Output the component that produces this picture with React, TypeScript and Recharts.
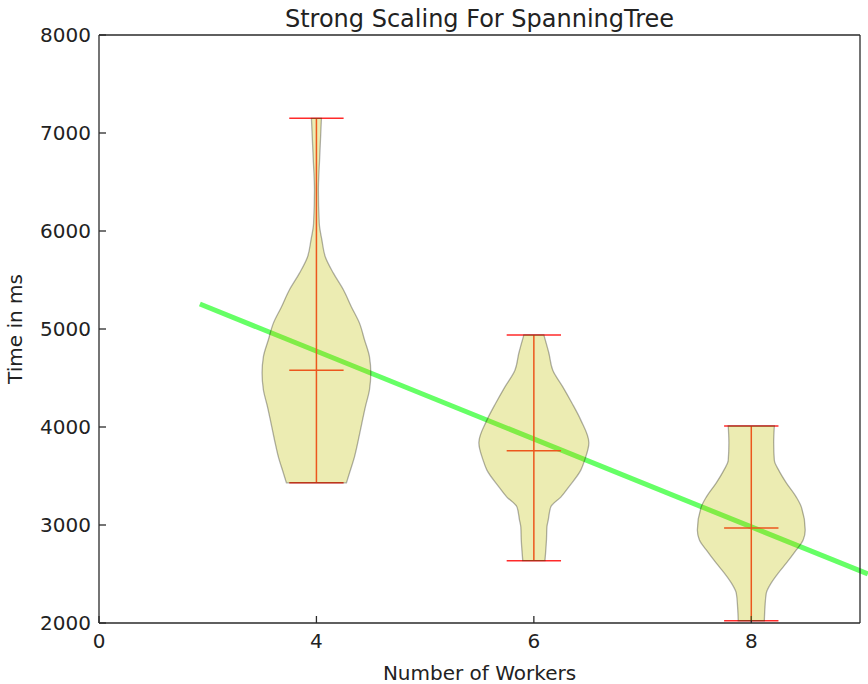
import { ComposedChart, Scatter, XAxis, YAxis, ReferenceLine, Curve } from "recharts";

const FONT = "'DejaVu Sans', sans-serif";
const TEXT = "#222";
const FRAME = "#2a2a2a";

const TITLE = "Strong Scaling For SpanningTree";

// violins sit at positions 1,2,3; axis ticks 0..3 carry these labels
const X_TICKS = [0, 1, 2, 3];
const X_TICK_LABELS = ["0", "4", "6", "8"];
const Y_TICKS = [2000, 3000, 4000, 5000, 6000, 7000, 8000];

const WORKERS = ["4", "6", "8"];
const MIN_TIMES = [3430, 2636, 2023];
const MAX_TIMES = [7150, 4939, 4010];
const MEAN_TIMES = [4580, 3758, 2969];

// kde outline: [time, half width in axis units]
const VIOLIN_4 = [
  [7150, 0.023], [6750, 0.015], [6420, 0.009], [6080, 0.013], [5910, 0.025],
  [5735, 0.041], [5570, 0.078], [5400, 0.124], [5225, 0.161], [5060, 0.198],
  [4890, 0.221], [4715, 0.244], [4550, 0.25], [4380, 0.244], [4205, 0.225],
  [4040, 0.209], [3870, 0.193], [3695, 0.175], [3530, 0.152], [3430, 0.138],
];
const VIOLIN_6 = [
  [4939, 0.046], [4755, 0.069], [4580, 0.087], [4410, 0.133], [4245, 0.175],
  [4070, 0.216], [3840, 0.253], [3665, 0.234], [3560, 0.216], [3390, 0.161],
  [3285, 0.124], [3185, 0.078], [3050, 0.066], [2980, 0.06], [2850, 0.058],
  [2636, 0.051],
];
const VIOLIN_8 = [
  [4010, 0.106], [3840, 0.103], [3660, 0.106], [3560, 0.126], [3430, 0.161],
  [3285, 0.207], [3185, 0.23], [2950, 0.248], [2850, 0.239], [2745, 0.207],
  [2610, 0.161], [2510, 0.124], [2410, 0.092], [2305, 0.069], [2165, 0.063],
  [2023, 0.06],
];
const VIOLINS = [VIOLIN_4, VIOLIN_6, VIOLIN_8];

// fitted trend line end points
const TREND = [
  { x: 0.464, y: 5255 },
  { x: 3.536, y: 2500 },
];

const CAP = 0.125;
const RED = "#ff2a2a";

// right side top->bottom, then left side bottom->top
const outline = (rows: number[][], pos: number) => [
  ...rows.map(([t, w]) => ({ x: pos + w, y: t })),
  ...rows
    .slice()
    .reverse()
    .map(([t, w]) => ({ x: pos - w, y: t })),
];

// smooth body between the two sides
const ViolinBody = (p: any) => {
  const pts = p.points || [];
  const n = pts.length / 2;
  const right = pts.slice(0, n);
  const left = pts.slice(n).reverse();
  return (
    <Curve
      layout="vertical"
      type="monotone"
      points={right}
      baseLine={left}
      fill="#bfbf00"
      fillOpacity={0.3}
      stroke="#000"
      strokeOpacity={0.3}
      strokeWidth={1.3}
    />
  );
};

const YLabel = (props: any) => {
  const vb = props.viewBox;
  const cx = 15;
  const cy = vb.y + vb.height / 2;
  return (
    <text
      x={cx}
      y={cy}
      dy="0.355em"
      transform={`rotate(-90 ${cx} ${cy})`}
      textAnchor="middle"
      fontSize={20}
      fontFamily={FONT}
      fill={TEXT}
    >
      Time in ms
    </text>
  );
};

const tickStyle = { fill: TEXT, fontSize: 20, fontFamily: FONT };

export default function App() {
  return (
    <div style={{ position: "absolute", left: 0, top: 0, background: "#fff" }}>
      <ComposedChart
        width={868}
        height={684}
        margin={{ top: 0, right: 0, bottom: 0, left: 0 }}
        style={{ fontFamily: FONT }}
      >
        <XAxis
          dataKey="x"
          type="number"
          domain={[0, 3.5]}
          ticks={X_TICKS}
          interval={0}
          tickFormatter={(v) => X_TICK_LABELS[v]}
          height={61}
          tickSize={-7}
          tickMargin={18}
          stroke={FRAME}
          strokeWidth={1.3}
          tick={tickStyle}
          label={{ value: "Number of Workers", position: "insideBottom", offset: 4, fontSize: 20, fill: TEXT }}
        />
        <XAxis
          xAxisId="top"
          orientation="top"
          type="number"
          domain={[0, 3.5]}
          allowDataOverflow
          ticks={X_TICKS}
          interval={0}
          height={35}
          tick={false}
          tickSize={-7}
          stroke={FRAME}
          strokeWidth={1.3}
          label={{ value: TITLE, position: "insideTop", offset: 9.5, fontSize: 24, fill: TEXT }}
        />
        <YAxis
          dataKey="y"
          type="number"
          domain={[2000, 8000]}
          ticks={Y_TICKS}
          interval={0}
          width={99}
          tickSize={-7}
          tickMargin={15}
          stroke={FRAME}
          strokeWidth={1.3}
          tick={tickStyle}
          label={<YLabel />}
        />
        <YAxis
          yAxisId="right"
          orientation="right"
          type="number"
          domain={[2000, 8000]}
          allowDataOverflow
          ticks={Y_TICKS}
          interval={0}
          width={8}
          tick={false}
          tickSize={-7}
          stroke={FRAME}
          strokeWidth={1.3}
        />
        {VIOLINS.map((rows, i) => (
          <Scatter
            key={WORKERS[i]}
            name={WORKERS[i]}
            data={outline(rows, i + 1)}
            isAnimationActive={false}
            shape={() => <g />}
            line={(p: any) => <ViolinBody {...p} />}
          />
        ))}
        <ReferenceLine
          segment={TREND}
          ifOverflow="visible"
          stroke="#66ff66"
          strokeWidth={5}
        />
        {WORKERS.map((w, i) => (
          <ReferenceLine
            key={`stem-${w}`}
            segment={[
              { x: i + 1, y: MIN_TIMES[i] },
              { x: i + 1, y: MAX_TIMES[i] },
            ]}
            stroke={RED}
            strokeWidth={1.5}
          />
        ))}
        {WORKERS.flatMap((w, i) =>
          [MIN_TIMES[i], MAX_TIMES[i], MEAN_TIMES[i]].map((t, j) => (
            <ReferenceLine
              key={`cap-${w}-${j}`}
              segment={[
                { x: i + 1 - CAP, y: t },
                { x: i + 1 + CAP, y: t },
              ]}
              stroke={RED}
              strokeWidth={1.5}
            />
          ))
        )}
      </ComposedChart>
    </div>
  );
}
